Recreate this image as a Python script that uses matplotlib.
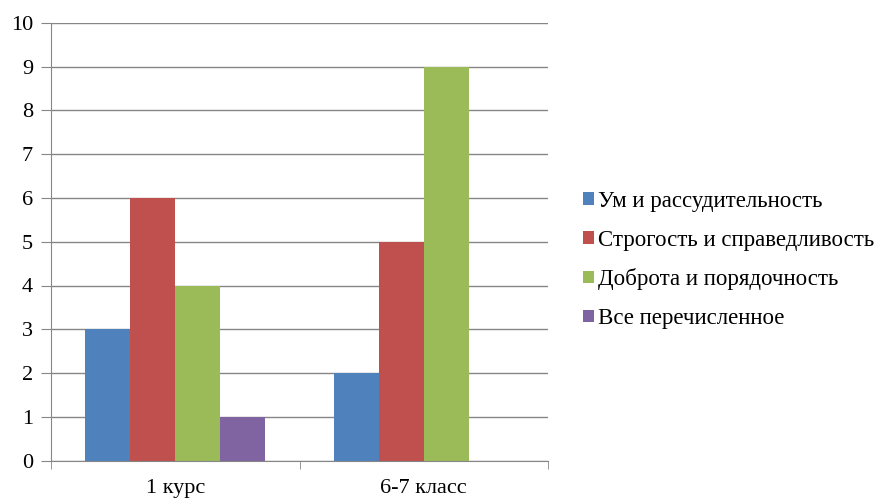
import numpy as np
import matplotlib.pyplot as plt
from matplotlib.ticker import FixedLocator

plt.rcParams['font.family'] = ['Liberation Serif', 'DejaVu Serif']

# Data
categories = ['1 курс', '6-7 класс']
series_names = ['Ум и рассудительность', 'Строгость и справедливость',
                'Доброта и порядочность', 'Все перечисленное']
values = [
    [3, 2],
    [6, 5],
    [4, 9],
    [1, 0],
]
colors = ['#4F81BD', '#C0504D', '#9BBB59', '#8064A2']

fig = plt.figure(figsize=(8.75, 4.99), dpi=100)
ax = fig.add_axes([51 / 875, 1 - 460.5 / 499, 497 / 875, 437.5 / 499])

x = np.arange(len(categories))
bar_w = 0.181
offsets = (np.arange(len(series_names)) - 1.5) * bar_w

handles = []
for i, name in enumerate(series_names):
    h = ax.bar(x + offsets[i], values[i], width=bar_w, color=colors[i],
               label=name, zorder=3)
    handles.append(h)

ax.set_xlim(-0.5, 1.5)
ax.set_ylim(0, 10)
ax.set_yticks(range(0, 11))
ax.set_xticks(x)
ax.set_xticklabels(categories)
ax.xaxis.set_minor_locator(FixedLocator([-0.5, 0.5, 1.5]))

ax.grid(axis='y', color='#868686', linewidth=1, zorder=0)
for s in ['top', 'right']:
    ax.spines[s].set_visible(False)
for s in ['left', 'bottom']:
    ax.spines[s].set_color('#868686')
    ax.spines[s].set_zorder(4)

ax.tick_params(axis='y', length=7, color='#868686', labelsize=16, pad=6)
ax.tick_params(axis='x', which='major', length=0, labelsize=16, pad=13)
ax.tick_params(axis='x', which='minor', length=6, color='#868686')

fig.legend(handles=handles, labels=series_names, loc='center left',
           bbox_to_anchor=(572 / 875, 1 - 260 / 499), frameon=False,
           fontsize=16.5, handlelength=0.45, handleheight=0.45,
           handletextpad=0.2, labelspacing=0.78, borderpad=0)

fig.savefig('out.png', dpi=100)
